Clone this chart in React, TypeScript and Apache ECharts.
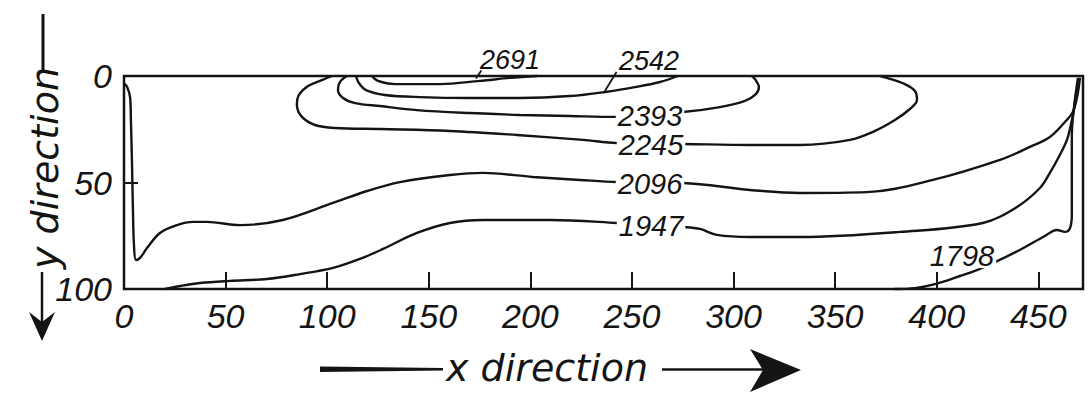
import React, { useEffect, useRef } from "react";
import * as echarts from "echarts";

// ---- axis data ----
const xMin = 0;
const xMax = 472;
const xInterval = 50;
const yMin = 0;
const yMax = 100;
const yInterval = 50;

// ---- contour levels ----
const levels = ["2691", "2542", "2393", "2245", "2096", "1947", "1798"];

// ---- contour lines, [x, y] in data units (y measured downward) ----
const contour2691: number[][] = [
  [122.0, 0], [125.0, 2.3], [133.4, 3.8], [155.5, 3.8], [175.2, 2.3], [190.0, 0.9], [203.3, 0],
];
const contour2542: number[][] = [
  [114.2, 0], [115.6, 3.3], [119.1, 6.6], [128.4, 8.9], [145.7, 9.9], [170.3, 10.3], [194.9, 10.3],
  [219.5, 9.4], [236.7, 7.5], [251.5, 5.2], [263.8, 2.8], [272.6, 0],
];
const contour2393: number[][] = [
  [109.7, 0], [106.3, 2.8], [105.3, 6.6], [107.8, 10.3], [113.7, 12.7], [126.0, 14.1], [144.2, 16.0],
  [170.3, 17.4], [194.9, 18.3], [219.5, 18.8], [241.6, 19.2], [275.1, 16.9], [293.3, 14.6],
  [305.6, 11.7], [311.0, 8.5], [312.5, 5.2], [310.5, 1.4], [309.1, 0],
];
const contour2245: number[][] = [
  [102.4, 0], [97.4, 1.9], [90.6, 4.7], [86.1, 8.9], [85.1, 13.6], [87.6, 19.2], [94.0, 23.0],
  [103.8, 24.4], [126.0, 24.9], [160.4, 25.8], [193.4, 27.7], [225.9, 30.0], [242.6, 31.5],
  [275.1, 31.9], [308.1, 32.4], [332.7, 32.4], [357.3, 30.0], [369.6, 25.8], [379.4, 20.7],
  [386.8, 15.5], [390.3, 11.3], [389.3, 7.0], [384.3, 3.8], [375.5, 0.9], [372.0, 0],
];
const contour2096: number[][] = [
  [0, 3.5], [1.5, 5.0], [3.0, 10.0], [3.4, 20.7], [3.9, 39.4], [4.4, 62.9], [4.9, 79.3], [5.9, 86.4],
  [7.9, 85.4], [11.3, 80.8], [17.7, 73.7], [26.1, 70.0], [34.0, 68.5], [40.8, 68.5], [57.1, 70.0],
  [78.2, 67.6], [102.9, 59.6], [119.6, 54.0], [135.8, 49.8], [160.4, 46.5], [176.7, 45.5],
  [201.3, 47.4], [224.4, 48.8], [242.6, 49.8], [275.1, 50.2], [308.1, 53.5], [332.7, 54.9],
  [365.6, 54.5], [398.1, 48.8], [431.1, 39.4], [445.9, 33.3], [455.7, 28.6], [463.1, 21.6],
  [467.0, 16.9], [469.0, 10.3], [470.0, 4.7], [470.5, 0.9],
];
const contour1947: number[][] = [
  [20.2, 100], [27.6, 98.6], [37.4, 97.2], [52.2, 96.2], [70.4, 95.3], [86.6, 93.0], [102.9, 90.1],
  [116.1, 85.9], [127.5, 81.2], [144.2, 73.7], [160.4, 69.0], [176.7, 67.6], [209.6, 67.6],
  [242.6, 69.0], [275.1, 70.9], [283.5, 71.8], [291.8, 74.6], [308.1, 75.6], [332.7, 75.6],
  [381.9, 73.2], [422.7, 69.0], [439.5, 61.5], [450.8, 52.6], [455.7, 45.5], [460.6, 37.1],
  [464.1, 30.0], [466.0, 23.0], [467.5, 16.0], [468.5, 8.9], [469.5, 3.8], [470.0, 0.9],
];
const contour1798: number[][] = [
  [379.4, 100], [389.3, 99.6], [399.1, 97.7], [411.4, 93.9], [419.8, 91.1], [427.7, 87.8],
  [440.9, 81.7], [453.2, 75.1], [459.1, 72.3], [463.1, 73.2], [465.6, 71.4], [466.5, 65.3],
  [466.5, 44.1], [466.5, 27.7], [467.0, 19.7], [468.0, 11.3], [469.0, 4.2], [469.5, 0.9],
];
const contours = [contour2691, contour2542, contour2393, contour2245, contour2096, contour1947, contour1798];

// ---- label anchors (data units) ----
const labelAnchors: number[][] = [
  [190.0, -7.5], [258.4, -7.0], [258.9, 18.6], [259.4, 32.2], [258.9, 50.5], [259.4, 70.4], [412.4, 84.5],
];
const labelOnLine = [false, false, true, true, true, true, true];
const leader2691: number[][] = [[173.2, 1.2], [175.9, -2.6]];
const leader2542: number[][] = [[236.7, 7.0], [242.4, -1.9]];

const INK = "#141414";
const DIGITS = '"Liberation Sans", Arial, sans-serif';

export default function App() {
  const ref = useRef<HTMLDivElement>(null);
  useEffect(() => {
    if (!ref.current) return;
    const chart = echarts.init(ref.current, undefined, { renderer: "svg" });

    const lineSeries = contours.map((pts, i) => ({
      type: "line",
      name: levels[i],
      data: pts,
      smooth: 0.35,
      symbol: "none",
      clip: false,
      z: 2,
      lineStyle: { color: INK, width: 2.4 },
    }));
    const leaderSeries = [leader2691, leader2542].map((pts) => ({
      type: "line",
      data: pts,
      symbol: "none",
      clip: false,
      z: 2,
      lineStyle: { color: INK, width: 1.8 },
    }));
    const labelSeries = {
      type: "scatter",
      symbolSize: 0,
      clip: false,
      z: 5,
      itemStyle: { color: INK, opacity: 1 },
      data: labelAnchors.map((p, i) => ({
        value: p,
        name: levels[i],
        label: {
          show: true,
          position: "inside",
          formatter: "{b}",
          fontFamily: DIGITS,
          fontStyle: "italic",
          fontSize: i < 2 ? 27 : 29,
          lineHeight: 24,
          color: INK,
          opacity: 1,
          textBorderWidth: 0,
          textBorderColor: "transparent",
          backgroundColor: labelOnLine[i] ? "#ffffff" : "transparent",
          padding: [0, 2],
        },
      })),
    };

    chart.setOption({
      animation: false,
      backgroundColor: "#ffffff",
      grid: {
        left: 124,
        right: 9,
        top: 76,
        bottom: 104,
        show: true,
        borderColor: INK,
        borderWidth: 2.5,
        backgroundColor: "transparent",
      },
      xAxis: {
        type: "value",
        min: xMin,
        max: xMax,
        interval: xInterval,
        axisLine: { show: false, onZero: false },
        splitLine: { show: false },
        axisTick: { show: true, inside: true, length: 17, lineStyle: { color: INK, width: 2 } },
        axisLabel: {
          margin: 10,
          formatter: (v: number) => (v % xInterval === 0 ? String(v) : ""),
          fontFamily: DIGITS,
          fontStyle: "italic",
          fontSize: 34,
          color: INK,
        },
      },
      yAxis: {
        type: "value",
        min: yMin,
        max: yMax,
        interval: yInterval,
        inverse: true,
        axisLine: { show: false, onZero: false },
        splitLine: { show: false },
        axisTick: { show: true, inside: true, length: 14, lineStyle: { color: INK, width: 2 } },
        axisLabel: {
          margin: 12,
          fontFamily: DIGITS,
          fontStyle: "italic",
          fontSize: 34,
          color: INK,
        },
      },
      graphic: [
        {
          type: "text",
          x: 45,
          y: 168,
          rotation: Math.PI / 2,
          style: {
            text: "y direction",
            font: 'oblique 38px "DejaVu Sans", sans-serif',
            fill: INK,
            align: "center",
            verticalAlign: "middle",
          },
        },
        { type: "line", shape: { x1: 43, y1: 14, x2: 43, y2: 72 }, style: { stroke: INK, lineWidth: 3 } },
        { type: "line", shape: { x1: 42, y1: 272, x2: 42, y2: 325 }, style: { stroke: INK, lineWidth: 2.5 } },
        {
          type: "polygon",
          shape: { points: [[42, 341], [29, 312], [42, 322], [55, 312]] },
          style: { fill: INK },
        },
        {
          type: "text",
          x: 547,
          y: 368,
          style: {
            text: "x direction",
            font: 'oblique 38px "DejaVu Sans", sans-serif',
            fill: INK,
            align: "center",
            verticalAlign: "middle",
          },
        },
        {
          type: "polygon",
          shape: { points: [[320, 366.5], [443, 368], [443, 370.5], [320, 372]] },
          style: { fill: INK },
        },
        { type: "line", shape: { x1: 662, y1: 369.5, x2: 766, y2: 369.5 }, style: { stroke: INK, lineWidth: 2.5 } },
        {
          type: "polygon",
          shape: { points: [[801, 370], [750, 349], [763, 370], [750, 392]] },
          style: { fill: INK },
        },
      ],
      series: [...lineSeries, ...leaderSeries, labelSeries],
    });
    return () => chart.dispose();
  }, []);
  return (
    <div
      ref={ref}
      style={{ position: "absolute", left: 0, top: 0, width: 1092, height: 393, background: "#fff" }}
    />
  );
}
